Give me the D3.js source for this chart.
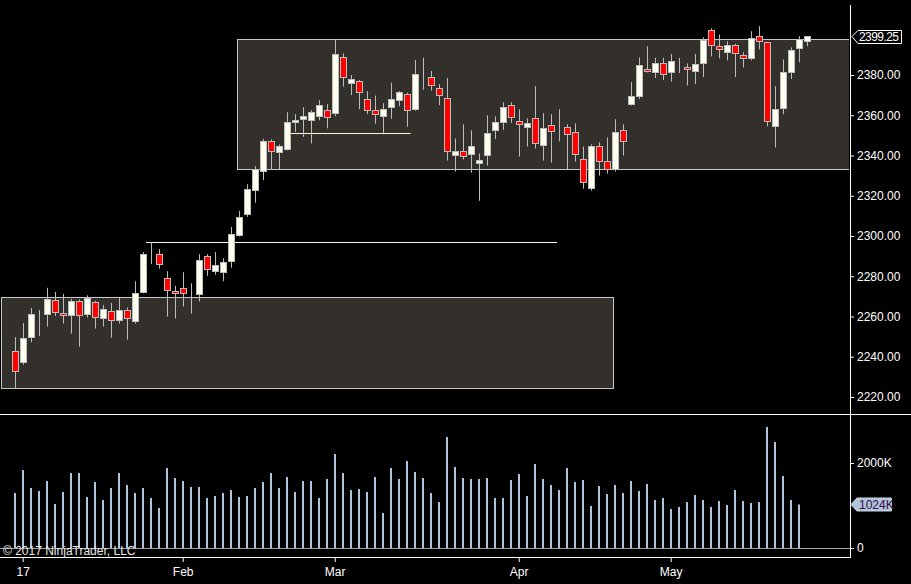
<!DOCTYPE html>
<html>
<head>
<meta charset="utf-8">
<script src="https://cdnjs.cloudflare.com/ajax/libs/d3/7.8.5/d3.min.js"></script>
<style>
body { margin: 0; background: #000; }
svg { display: block; font-family: "Liberation Sans", Arial, sans-serif; }
</style>
</head>
<body>
<div id="chart"></div>
<script>
// trading days, Dec 30 2016 .. May 24 2017
var dates = ["2016-12-30",
  "2017-01-03","2017-01-04","2017-01-05","2017-01-06","2017-01-09","2017-01-10","2017-01-11","2017-01-12","2017-01-13","2017-01-17",
  "2017-01-18","2017-01-19","2017-01-20","2017-01-23","2017-01-24","2017-01-25","2017-01-26","2017-01-27","2017-01-30","2017-01-31",
  "2017-02-01","2017-02-02","2017-02-03","2017-02-06","2017-02-07","2017-02-08","2017-02-09","2017-02-10","2017-02-13","2017-02-14",
  "2017-02-15","2017-02-16","2017-02-17","2017-02-21","2017-02-22","2017-02-23","2017-02-24","2017-02-27","2017-02-28",
  "2017-03-01","2017-03-02","2017-03-03","2017-03-06","2017-03-07","2017-03-08","2017-03-09","2017-03-10","2017-03-13","2017-03-14",
  "2017-03-15","2017-03-16","2017-03-17","2017-03-20","2017-03-21","2017-03-22","2017-03-23","2017-03-24","2017-03-27","2017-03-28",
  "2017-03-29","2017-03-30","2017-03-31",
  "2017-04-03","2017-04-04","2017-04-05","2017-04-06","2017-04-07","2017-04-10","2017-04-11","2017-04-12","2017-04-13","2017-04-17",
  "2017-04-18","2017-04-19","2017-04-20","2017-04-21","2017-04-24","2017-04-25","2017-04-26","2017-04-27","2017-04-28",
  "2017-05-01","2017-05-02","2017-05-03","2017-05-04","2017-05-05","2017-05-08","2017-05-09","2017-05-10","2017-05-11","2017-05-12",
  "2017-05-15","2017-05-16","2017-05-17","2017-05-18","2017-05-19","2017-05-22","2017-05-23","2017-05-24"];

var opens = [2243.0,2237.5,2249.5,2261.5,2261.0,2268.0,2261.5,2260.5,2267.5,2261.5,
  2267.0,2259.0,2262.75,2258.0,2263.0,2257.5,2272.25,2290.5,2291.0,2279.0,
  2272.5,2274.0,2272.25,2271.0,2290.0,2282.75,2282.25,2287.5,2300.5,2310.75,
  2323.25,2332.0,2347.0,2341.5,2343.0,2356.5,2358.25,2357.75,2359.5,2362.5,
  2360.75,2388.75,2376.25,2377.0,2368.0,2362.5,2359.75,2364.0,2367.5,2370.5,
  2362.75,2379.0,2379.0,2373.5,2368.5,2340.0,2342.0,2340.5,2336.5,2340.0,
  2352.5,2356.5,2365.0,2357.0,2354.0,2358.5,2345.0,2355.0,2351.75,2354.0,
  2351.5,2338.5,2323.5,2344.5,2337.5,2333.0,2352.5,2365.5,2369.5,2382.75,
  2381.25,2385.75,2381.25,2385.5,2383.75,2381.75,2385.75,2402.25,2394.25,2391.25,
  2394.75,2389.75,2388.25,2399.25,2396.25,2354.5,2363.5,2381.25,2393.25,2396.75];
var highs = [2249.75,2256.75,2264.25,2263.25,2274.25,2272.25,2271.25,2268.75,2268.5,2270.5,
  2267.75,2265.75,2266.75,2269.25,2264.5,2277.5,2292.0,2297.0,2293.5,2282.5,
  2275.25,2282.0,2276.5,2291.0,2291.0,2292.0,2289.0,2304.5,2312.5,2325.75,
  2334.75,2348.25,2348.0,2345.5,2361.5,2360.5,2364.0,2362.5,2367.5,2365.5,
  2397.75,2390.75,2380.0,2377.5,2372.0,2369.75,2366.0,2376.25,2372.0,2371.25,
  2387.5,2388.5,2382.0,2375.5,2378.5,2348.5,2355.5,2352.5,2341.0,2360.0,
  2359.5,2366.5,2366.5,2363.0,2358.5,2374.5,2361.0,2360.5,2363.0,2355.5,
  2356.0,2344.5,2345.5,2346.5,2349.0,2358.0,2355.5,2376.5,2388.75,2394.25,
  2388.5,2388.5,2390.5,2388.5,2385.75,2390.5,2398.75,2403.25,2400.0,2396.75,
  2395.5,2391.25,2401.75,2404.25,2396.5,2374.5,2387.75,2393.75,2399.25,2399.25];
var lows = [2224.5,2236.0,2247.25,2250.25,2255.0,2260.25,2256.5,2251.5,2245.0,2259.5,
  2254.0,2255.0,2249.5,2256.5,2248.5,2256.5,2271.5,2286.0,2283.75,2260.0,
  2259.0,2265.0,2261.5,2267.5,2280.25,2280.75,2277.5,2284.25,2299.75,2309.5,
  2316.5,2327.75,2333.0,2333.0,2342.5,2351.75,2349.25,2346.0,2357.5,2353.5,
  2359.5,2374.25,2370.0,2363.0,2360.5,2355.75,2350.5,2358.25,2364.5,2354.25,
  2362.25,2372.75,2372.25,2365.0,2337.5,2332.0,2338.0,2331.5,2317.5,2335.0,
  2348.25,2352.75,2356.25,2339.5,2344.5,2343.5,2337.5,2336.5,2347.0,2333.25,
  2337.0,2323.5,2322.5,2330.0,2331.0,2332.0,2340.0,2364.75,2368.0,2381.25,
  2378.5,2377.5,2376.75,2381.0,2374.75,2375.5,2379.0,2389.25,2388.25,2387.25,
  2379.0,2383.75,2387.25,2392.75,2354.5,2344.0,2360.5,2378.0,2386.25,2394.25];
var closes = [2233.25,2249.25,2261.0,2261.5,2268.5,2262.0,2260.5,2267.5,2260.5,2269.25,
  2259.5,2263.5,2258.5,2263.0,2259.0,2271.5,2291.0,2290.5,2286.0,2273.0,
  2271.5,2271.5,2272.25,2288.0,2283.5,2285.5,2287.0,2300.75,2309.25,2323.25,
  2333.5,2347.0,2342.0,2344.5,2356.5,2357.5,2359.5,2361.5,2365.0,2359.25,
  2390.25,2378.75,2378.0,2371.75,2362.75,2360.5,2363.0,2368.0,2371.5,2362.5,
  2380.25,2379.0,2375.0,2370.0,2342.0,2342.0,2339.5,2344.5,2338.0,2351.0,
  2356.5,2364.0,2359.0,2355.5,2356.0,2346.0,2353.5,2352.0,2351.75,2350.5,
  2340.5,2327.0,2344.5,2337.0,2333.5,2351.5,2347.0,2369.5,2384.75,2381.75,
  2385.75,2380.25,2386.75,2385.5,2382.75,2385.25,2397.25,2394.75,2392.75,2394.75,
  2390.75,2388.25,2398.25,2396.75,2357.0,2363.0,2381.25,2392.25,2397.75,2399.25];
// volume in thousands (last session has no bar yet)
var volumes = [1294,1835,1412,1341,1576,1035,1318,1765,1765,1200,
  1553,1129,1412,1765,1482,1294,1412,1176,941,1882,
  1647,1576,1435,1435,1176,1224,1294,1365,1200,1224,
  1412,1553,1765,1412,1671,1318,1576,1576,1176,1624,
  2212,1765,1365,1388,1318,1671,824,1882,1624,2047,
  1788,1647,1294,1082,2612,1906,1647,1624,1624,1647,
  1176,1176,1600,1741,1224,1976,1624,1482,1365,1882,
  1553,1600,988,1459,1271,1482,1294,1576,1341,1506,
  1129,1176,918,965,1082,1247,1129,965,1106,1012,
  1365,1106,1059,1082,2847,2494,1694,1129,1024,null];

var monthTickDates = ["2017-01-03","2017-02-01","2017-03-01","2017-04-03","2017-05-01"];
var monthTickLabels = ["17","Feb","Mar","Apr","May"];
var priceTicks = [2220,2240,2260,2280,2300,2320,2340,2360,2380];
var volumeTicks = [0, 2000];
var volumeTickLabels = ["0", "2000K"];

// drawn zones and lines (bar index positions, prices)
var zoneFrom = [-1.7, 27.8];
var zoneTo = [74.8, 120];
var zoneLow = [2224.25, 2333.25];
var zoneHigh = [2269.5, 2397.75];
var lineFrom = [16.4, 34.5];
var lineTo = [67.8, 49.5];
var linePrice = [2297.0, 2351.0];

var lastPrice = 2399.25;

function init() {
    var w = 911, h = 584;
    var axisX = 850;

    var svg = d3.select("#chart").append("svg")
                .attr("width", w)
                .attr("height", h);

    svg.append("rect").attr("width", w).attr("height", h).attr("fill", "#000");

    var xScale = d3.scaleLinear()
                   .domain([0, dates.length - 1])
                   .range([14.7, 806.7]);

    var yScale = d3.scaleLinear()
                   .domain([2220, 2400])
                   .range([397, 34.75]);

    var vScale = d3.scaleLinear()
                   .domain([0, 2000])
                   .range([548, 463]);

    svg.append("clipPath").attr("id", "priceClip")
       .append("rect").attr("x", 0).attr("y", 0).attr("width", axisX - 1).attr("height", 413);

    var pricePanel = svg.append("g").attr("clip-path", "url(#priceClip)");

    // zones
    pricePanel.selectAll("rect.zone")
        .data(zoneFrom.map(function(f, i) { return i; }))
        .enter().append("rect")
        .attr("class", "zone")
        .attr("x", d => Math.round(xScale(zoneFrom[d])) + 0.5)
        .attr("y", d => Math.round(yScale(zoneHigh[d])) + 0.5)
        .attr("width", d => Math.round(xScale(zoneTo[d]) - xScale(zoneFrom[d])))
        .attr("height", d => Math.round(yScale(zoneLow[d]) - yScale(zoneHigh[d])))
        .attr("fill", "#332f2b")
        .attr("stroke", "#c4c8cc")
        .attr("stroke-width", 1);

    // horizontal lines
    pricePanel.selectAll("line.level")
        .data(linePrice.map(function(p, i) { return i; }))
        .enter().append("line")
        .attr("class", "level")
        .attr("x1", d => xScale(lineFrom[d]))
        .attr("x2", d => xScale(lineTo[d]))
        .attr("y1", d => Math.round(yScale(linePrice[d])) + 0.5)
        .attr("y2", d => Math.round(yScale(linePrice[d])) + 0.5)
        .attr("stroke", "#fff4dc")
        .attr("stroke-width", 1);

    // candles
    var idx = dates.map(function(d, i) { return i; });
    var candles = pricePanel.selectAll("g.candle")
        .data(idx)
        .enter().append("g")
        .attr("class", "candle");

    candles.append("line")
        .attr("x1", d => Math.round(xScale(d)) + 0.5)
        .attr("x2", d => Math.round(xScale(d)) + 0.5)
        .attr("y1", d => yScale(highs[d]))
        .attr("y2", d => yScale(lows[d]))
        .attr("stroke", "#bdbdbd")
        .attr("stroke-width", 1);

    candles.append("rect")
        .attr("x", d => Math.round(xScale(d)) - 2.5)
        .attr("y", d => Math.round(yScale(Math.max(opens[d], closes[d]))) + 0.5)
        .attr("width", 6)
        .attr("height", d => Math.max(0, Math.round(Math.abs(yScale(opens[d]) - yScale(closes[d])))))
        .attr("fill", d => closes[d] < opens[d] ? "#ff0000" : "#fffff0")
        .attr("stroke", "#bdbdbd")
        .attr("stroke-width", 1);

    // panel frame lines
    svg.append("line").attr("x1", 0).attr("x2", w).attr("y1", 414.5).attr("y2", 414.5)
       .attr("stroke", "#fff").attr("stroke-width", 1);
    svg.append("line").attr("x1", axisX + 0.5).attr("x2", axisX + 0.5).attr("y1", 5).attr("y2", 558)
       .attr("stroke", "#fff").attr("stroke-width", 1);
    svg.append("line").attr("x1", 0).attr("x2", axisX).attr("y1", 557.5).attr("y2", 557.5)
       .attr("stroke", "#fff").attr("stroke-width", 1);

    // volume bars
    svg.selectAll("rect.vol")
        .data(idx.filter(d => volumes[d] != null))
        .enter().append("rect")
        .attr("class", "vol")
        .attr("x", d => Math.round(xScale(d)) - 1)
        .attr("y", d => vScale(volumes[d]))
        .attr("width", 2)
        .attr("height", d => vScale(0) - vScale(volumes[d]))
        .attr("fill", "#b0c4de");

    svg.append("line").attr("x1", 0).attr("x2", axisX).attr("y1", 548.5).attr("y2", 548.5)
       .attr("stroke", "#a0a0a0").attr("stroke-width", 1);

    svg.append("text")
       .attr("x", 3).attr("y", 555)
       .attr("font-size", 12)
       .attr("fill", "#e8e8e8")
       .text("\u00a9 2017 NinjaTrader, LLC");

    // price axis
    var priceAxis = d3.axisRight(yScale)
                      .tickValues(priceTicks)
                      .tickSize(4)
                      .tickPadding(3)
                      .tickFormat(d => d.toFixed(2));
    var pa = svg.append("g")
                .attr("transform", "translate(" + axisX + ",0)")
                .call(priceAxis);
    styleAxis(pa);

    // volume axis
    var volAxis = d3.axisRight(vScale)
                    .tickValues(volumeTicks)
                    .tickSize(4)
                    .tickPadding(3)
                    .tickFormat((d, i) => volumeTickLabels[i]);
    var va = svg.append("g")
                .attr("transform", "translate(" + axisX + ",0)")
                .call(volAxis);
    styleAxis(va);

    // time axis
    var tickIdx = monthTickDates.map(d => dates.indexOf(d));
    var timeAxis = d3.axisBottom(xScale)
                     .tickValues(tickIdx)
                     .tickSize(5)
                     .tickPadding(5)
                     .tickFormat((d, i) => monthTickLabels[i]);
    var ta = svg.append("g")
                .attr("transform", "translate(0,557)")
                .call(timeAxis);
    styleAxis(ta);

    // last price marker
    var ly = Math.round(yScale(lastPrice)) + 0.5;
    svg.append("path")
       .attr("d", "M" + (axisX + 2) + "," + ly + " L" + (axisX + 8) + "," + (ly - 6) +
                  " L" + (axisX + 51.5) + "," + (ly - 6) + " L" + (axisX + 51.5) + "," + (ly + 7) +
                  " L" + (axisX + 8) + "," + (ly + 7) + " Z")
       .attr("fill", "#000")
       .attr("stroke", "#fff")
       .attr("stroke-width", 1);
    svg.append("text")
       .attr("x", axisX + 9).attr("y", ly + 4.5)
       .attr("font-size", 12)
       .attr("textLength", 40)
       .attr("fill", "#fff")
       .text(lastPrice.toFixed(2));

    // last volume marker
    var lastVol = volumes.filter(v => v != null).slice(-1)[0];
    var vy = Math.round(vScale(lastVol)) + 0.5;
    svg.append("path")
       .attr("d", "M" + (axisX + 1) + "," + vy + " L" + (axisX + 7) + "," + (vy - 6.5) +
                  " L" + (axisX + 41.5) + "," + (vy - 6.5) + " L" + (axisX + 41.5) + "," + (vy + 6.5) +
                  " L" + (axisX + 7) + "," + (vy + 6.5) + " Z")
       .attr("fill", "#b0c4de")
       .attr("stroke", "#c8d4e4")
       .attr("stroke-width", 1);
    svg.append("text")
       .attr("x", axisX + 9).attr("y", vy + 4.5)
       .attr("font-size", 12)
       .attr("fill", "#3a0a3a")
       .text(lastVol + "K");
}

function styleAxis(g) {
    g.select(".domain").remove();
    g.selectAll(".tick line").attr("stroke", "#fff");
    g.selectAll(".tick text")
     .attr("fill", "#fff")
     .attr("font-size", 12)
     .attr("font-family", "Liberation Sans, Arial, sans-serif");
}

window.onload = init;
</script>
</body>
</html>
